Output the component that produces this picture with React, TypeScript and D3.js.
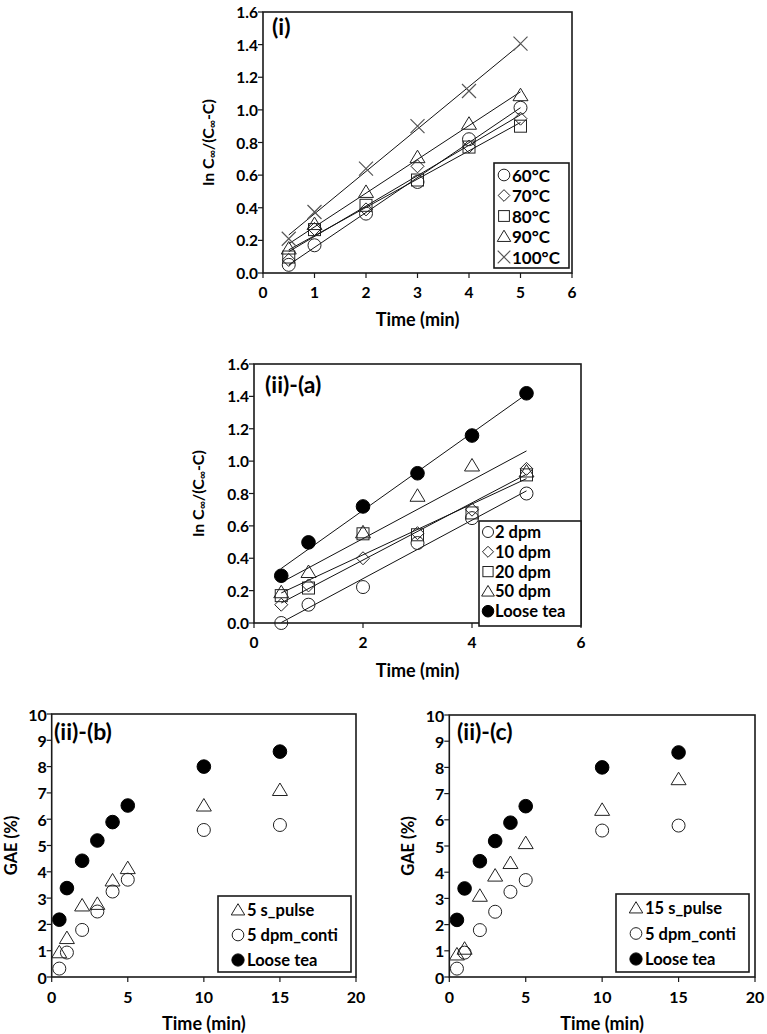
import React from "react";
import * as d3 from "d3";

// ---------- DATA ----------
const timesA = [0.5, 1, 2, 3, 4, 5];
const tempLabels = ["60°C", "70°C", "80°C", "90°C", "100°C"];
const temp60 = [0.05, 0.17, 0.364, 0.558, 0.82, 1.013];
const temp70 = [0.08, 0.27, 0.39, 0.654, 0.775, 0.946];
const temp80 = [0.098, 0.266, 0.415, 0.57, 0.772, 0.9];
const temp90 = [0.15, 0.3, 0.497, 0.71, 0.915, 1.09];
const temp100 = [0.21, 0.374, 0.64, 0.9, 1.116, 1.406];

const dpmLabels = ["2 dpm", "10 dpm", "20 dpm", "50 dpm", "Loose tea"];
const dpm2 = [0.0, 0.113, 0.222, 0.494, 0.648, 0.8];
const dpm10 = [0.113, 0.232, 0.4, 0.555, 0.7, 0.952];
const dpm20 = [0.169, 0.216, 0.551, 0.545, 0.68, 0.915];
const dpm50 = [0.19, 0.315, 0.56, 0.786, 0.973, 0.936];
const looseLn = [0.292, 0.498, 0.72, 0.925, 1.158, 1.419];

const timesB = [0.5, 1, 2, 3, 4, 5, 10, 15];
const looseGAE = [2.18, 3.38, 4.42, 5.19, 5.89, 6.52, 8.0, 8.57];
const conti5 = [0.32, 0.93, 1.79, 2.49, 3.25, 3.7, 5.59, 5.78];
const pulse5 = [0.94, 1.48, 2.72, 2.78, 3.67, 4.14, 6.52, 7.11];
const pulse15 = [0.86, 1.08, 3.1, 3.87, 4.35, 5.11, 6.38, 7.55];

const ticksLn = [0, 0.2, 0.4, 0.6, 0.8, 1.0, 1.2, 1.4, 1.6];
const ticksTimeI = [0, 1, 2, 3, 4, 5, 6];
const ticksTimeA = [0, 2, 4, 6];
const ticksGAE = [0, 1, 2, 3, 4, 5, 6, 7, 8, 9, 10];
const ticksTimeB = [0, 5, 10, 15, 20];

// ---------- helpers ----------
const FONT = "Lato, 'Open Sans', sans-serif";
const STROKE = "#222";

function fit(xs: number[], ys: number[]) {
  const mx = d3.mean(xs)!;
  const my = d3.mean(ys)!;
  let sxy = 0, sxx = 0;
  xs.forEach((x, i) => {
    sxy += (x - mx) * (ys[i] - my);
    sxx += (x - mx) * (x - mx);
  });
  const b = sxy / sxx;
  const a = my - b * mx;
  return (x: number) => a + b * x;
}

type Shape = "circle" | "diamond" | "square" | "triangle" | "cross" | "dot";

function Marker({ shape, x, y, s = 1 }: { shape: Shape; x: number; y: number; s?: number }) {
  const common = { stroke: STROKE, strokeWidth: 1, fill: "none" };
  switch (shape) {
    case "circle":
      return <circle cx={x} cy={y} r={6.5 * s} {...common} />;
    case "dot":
      return <circle cx={x} cy={y} r={6.8 * s} fill="#000" stroke="#000" />;
    case "diamond":
      return <path d={`M${x},${y - 6.5 * s}L${x + 6.5 * s},${y}L${x},${y + 6.5 * s}L${x - 6.5 * s},${y}Z`} {...common} />;
    case "square":
      return <rect x={x - 6 * s} y={y - 6 * s} width={12 * s} height={12 * s} {...common} />;
    case "triangle":
      return <path d={`M${x},${y - 7 * s}L${x + 7.5 * s},${y + 5.5 * s}L${x - 7.5 * s},${y + 5.5 * s}Z`} {...common} />;
    case "cross":
      return <path d={`M${x - 7 * s},${y - 7 * s}L${x + 7 * s},${y + 7 * s}M${x + 7 * s},${y - 7 * s}L${x - 7 * s},${y + 7 * s}`} stroke="#555" strokeWidth={1.2} fill="none" />;
  }
  return null;
}

interface Series { label: string; shape: Shape; xs: number[]; ys: number[]; trend?: boolean }

interface PanelProps {
  x0: number; x1: number; y0: number; y1: number;
  xDomain: [number, number]; yDomain: [number, number];
  xTicks: number[]; yTicks: number[]; yFmt: (v: number) => string;
  series: Series[];
  title: string; titleX: number; titleY: number; titleSize: number;
  xLabelY: number; yLabelX: number; yLabel: React.ReactNode; yLabelSize: number;
  tickSize: number;
  legend: { x: number; y: number; w: number; h: number; firstY: number; step: number; mx: number; tx: number; size: number; ms: number };
}

function Panel(p: PanelProps) {
  const xs = d3.scaleLinear().domain(p.xDomain).range([p.x0, p.x1]);
  const ys = d3.scaleLinear().domain(p.yDomain).range([p.y0, p.y1]);
  const cy = (p.y0 + p.y1) / 2;
  const cx = (p.x0 + p.x1) / 2;
  return (
    <g fontFamily={FONT} fontWeight="bold">
      {p.series.filter(s => s.trend).map((s, i) => {
        const f = fit(s.xs, s.ys);
        const a = d3.min(s.xs)!, b = d3.max(s.xs)!;
        return <line key={"t" + i} x1={xs(a)} y1={ys(f(a))} x2={xs(b)} y2={ys(f(b))} stroke="#111" strokeWidth={1} />;
      })}
      {p.series.map((s, i) => (
        <g key={"s" + i}>
          {s.xs.map((x, j) => <Marker key={j} shape={s.shape} x={xs(x)} y={ys(s.ys[j])} />)}
        </g>
      ))}
      <rect x={p.x0} y={p.y1} width={p.x1 - p.x0} height={p.y0 - p.y1} fill="none" stroke="#1a1a1a" strokeWidth={1.6} />
      {p.xTicks.map(t => (
        <g key={"xt" + t}>
          <line x1={xs(t)} x2={xs(t)} y1={p.y0} y2={p.y0 + 5} stroke="#1a1a1a" strokeWidth={1.2} />
          <text x={xs(t)} y={p.y0 + 19} textAnchor="middle" dominantBaseline="central" fontSize={p.tickSize}>{t}</text>
        </g>
      ))}
      {p.yTicks.map(t => (
        <g key={"yt" + t}>
          <line x1={p.x0 - 5} x2={p.x0} y1={ys(t)} y2={ys(t)} stroke="#1a1a1a" strokeWidth={1.2} />
          <text x={p.x0 - 5} y={ys(t)} textAnchor="end" dominantBaseline="central" fontSize={p.tickSize}>{p.yFmt(t)}</text>
        </g>
      ))}
      <text x={p.titleX} y={p.titleY} dominantBaseline="central" fontSize={p.titleSize}>{p.title}</text>
      <text x={cx} y={p.xLabelY} textAnchor="middle" dominantBaseline="central" fontSize={18}>Time (min)</text>
      <text transform={`translate(${p.yLabelX},${cy}) rotate(-90)`} textAnchor="middle" dominantBaseline="central" fontSize={p.yLabelSize}>{p.yLabel}</text>
      <rect x={p.legend.x} y={p.legend.y} width={p.legend.w} height={p.legend.h} fill="#fff" stroke="#1a1a1a" strokeWidth={1.6} />
      {p.series.map((s, i) => {
        const yy = p.legend.firstY + i * p.legend.step;
        return (
          <g key={"l" + i}>
            <Marker shape={s.shape} x={p.legend.mx} y={yy} s={p.legend.ms} />
            <text x={p.legend.tx} y={yy} dominantBaseline="central" fontSize={p.legend.size}>{s.label}</text>
          </g>
        );
      })}
    </g>
  );
}

const lnLabel = (
  <>
    <tspan>ln C</tspan>
    <tspan fontSize={11} dy={4}>∞</tspan>
    <tspan dy={-4}>/(C</tspan>
    <tspan fontSize={11} dy={4}>∞</tspan>
    <tspan dy={-4}>-C)</tspan>
  </>
);

export default function App() {
  const fmt1 = (v: number) => v.toFixed(1);
  const fmt0 = (v: number) => String(v);
  return (
    <svg width={767} height={1034} style={{ position: "absolute", left: 0, top: 0, background: "#fff" }}>
      <rect width={767} height={1034} fill="#fff" />
      <Panel
        x0={263} x1={572} y0={273} y1={12}
        xDomain={[0, 6]} yDomain={[0, 1.6]}
        xTicks={ticksTimeI} yTicks={ticksLn} yFmt={fmt1}
        series={[
          { label: tempLabels[0], shape: "circle", xs: timesA, ys: temp60, trend: true },
          { label: tempLabels[1], shape: "diamond", xs: timesA, ys: temp70, trend: true },
          { label: tempLabels[2], shape: "square", xs: timesA, ys: temp80, trend: true },
          { label: tempLabels[3], shape: "triangle", xs: timesA, ys: temp90, trend: true },
          { label: tempLabels[4], shape: "cross", xs: timesA, ys: temp100, trend: true },
        ]}
        title="(i)" titleX={272} titleY={26} titleSize={23}
        xLabelY={319} yLabelX={207} yLabel={lnLabel} yLabelSize={16} tickSize={15.5}
        legend={{ x: 494, y: 163, w: 75, h: 105, firstY: 175, step: 20.5, mx: 504, tx: 512, size: 17, ms: 0.9 }}
      />
      <Panel
        x0={254} x1={581} y0={623} y1={364}
        xDomain={[0, 6]} yDomain={[0, 1.6]}
        xTicks={ticksTimeA} yTicks={ticksLn} yFmt={fmt1}
        series={[
          { label: dpmLabels[0], shape: "circle", xs: timesA, ys: dpm2, trend: true },
          { label: dpmLabels[1], shape: "diamond", xs: timesA, ys: dpm10, trend: true },
          { label: dpmLabels[2], shape: "square", xs: timesA, ys: dpm20, trend: true },
          { label: dpmLabels[3], shape: "triangle", xs: timesA, ys: dpm50, trend: true },
          { label: dpmLabels[4], shape: "dot", xs: timesA, ys: looseLn, trend: true },
        ]}
        title="(ii)-(a)" titleX={265} titleY={384} titleSize={23}
        xLabelY={670} yLabelX={197} yLabel={lnLabel} yLabelSize={16} tickSize={15.5}
        legend={{ x: 479, y: 521, w: 102, h: 105, firstY: 532, step: 19.8, mx: 488, tx: 495, size: 16.5, ms: 0.85 }}
      />
      <Panel
        x0={51.7} x1={356} y0={977} y1={714}
        xDomain={[0, 20]} yDomain={[0, 10]}
        xTicks={ticksTimeB} yTicks={ticksGAE} yFmt={fmt0}
        series={[
          { label: "5 s_pulse", shape: "triangle", xs: timesB, ys: pulse5 },
          { label: "5 dpm_conti", shape: "circle", xs: timesB, ys: conti5 },
          { label: "Loose tea", shape: "dot", xs: timesB, ys: looseGAE },
        ]}
        title="(ii)-(b)" titleX={54} titleY={731} titleSize={23}
        xLabelY={1023} yLabelX={11} yLabel="GAE (%)" yLabelSize={16.5} tickSize={16}
        legend={{ x: 218, y: 896, w: 133, h: 76, firstY: 910, step: 25, mx: 238, tx: 247, size: 16.5, ms: 0.9 }}
      />
      <Panel
        x0={449.3} x1={755} y0={977} y1={715}
        xDomain={[0, 20]} yDomain={[0, 10]}
        xTicks={ticksTimeB} yTicks={ticksGAE} yFmt={fmt0}
        series={[
          { label: "15 s_pulse", shape: "triangle", xs: timesB, ys: pulse15 },
          { label: "5 dpm_conti", shape: "circle", xs: timesB, ys: conti5 },
          { label: "Loose tea", shape: "dot", xs: timesB, ys: looseGAE },
        ]}
        title="(ii)-(c)" titleX={457} titleY={731} titleSize={23}
        xLabelY={1023} yLabelX={408} yLabel="GAE (%)" yLabelSize={16.5} tickSize={16}
        legend={{ x: 616, y: 894, w: 133, h: 78, firstY: 908, step: 25.5, mx: 636, tx: 645, size: 16.5, ms: 0.9 }}
      />
    </svg>
  );
}
